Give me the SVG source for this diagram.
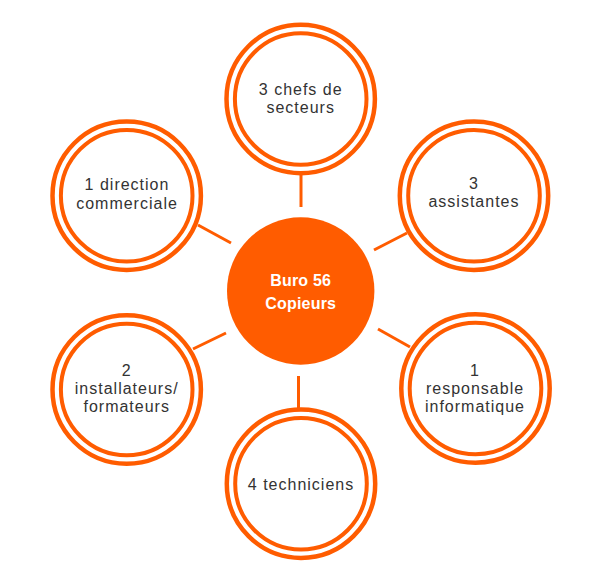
<svg xmlns="http://www.w3.org/2000/svg" width="596" height="584" viewBox="0 0 596 584">
<style>
.o{fill:none;stroke:#ff5c00;stroke-width:4.5}
.i{fill:#fff;stroke:#ff5c00;stroke-width:4}
.t{font-family:"Liberation Sans",Arial,sans-serif;font-size:16px;fill:#333;letter-spacing:1px;text-anchor:middle}
.c{font-family:"Liberation Sans",Arial,sans-serif;font-size:16px;font-weight:bold;fill:#fff;letter-spacing:0.2px;text-anchor:middle}
.l{stroke:#ff5c00;stroke-width:3;fill:none}
</style>
<rect width="596" height="584" fill="#fff"/>
<g id="connectors">
<line class="l" x1="301" y1="175" x2="301" y2="207"/>
<line class="l" x1="198" y1="225" x2="231" y2="243"/>
<line class="l" x1="374" y1="250" x2="407" y2="233"/>
<line class="l" x1="193" y1="349" x2="226" y2="333"/>
<line class="l" x1="378" y1="329" x2="410" y2="347"/>
<line class="l" x1="298.5" y1="376" x2="298.5" y2="408"/>
</g>
<g id="center">
<circle cx="300.7" cy="291" r="73.7" fill="#ff5c00"/>
<text class="c" x="300.7" y="286">Buro 56</text>
<text class="c" x="300.7" y="309">Copieurs</text>
</g>
<g id="n-top">
<circle class="o" cx="300.7" cy="99" r="74.2"/>
<circle class="i" cx="300.7" cy="99" r="65.8"/>
<text class="t" x="300.7" y="95">3 chefs de</text>
<text class="t" x="300.7" y="113">secteurs</text>
</g>
<g id="n-topleft">
<circle class="o" cx="126.7" cy="195.7" r="74.2"/>
<circle class="i" cx="126.7" cy="195.7" r="65.8"/>
<text class="t" x="127" y="190">1 direction</text>
<text class="t" x="127" y="209">commerciale</text>
</g>
<g id="n-topright">
<circle class="o" cx="474" cy="195.7" r="74.2"/>
<circle class="i" cx="474" cy="195.7" r="65.8"/>
<text class="t" x="474" y="188.5">3</text>
<text class="t" x="474" y="207">assistantes</text>
</g>
<g id="n-bottomleft">
<circle class="o" cx="126.7" cy="389.5" r="74.2"/>
<circle class="i" cx="126.7" cy="389.5" r="65.8"/>
<text class="t" x="126.7" y="376">2</text>
<text class="t" x="126.7" y="394">installateurs/</text>
<text class="t" x="126.7" y="412">formateurs</text>
</g>
<g id="n-bottomright">
<circle class="o" cx="475.5" cy="388.5" r="74.2"/>
<circle class="i" cx="475.5" cy="388.5" r="65.8"/>
<text class="t" x="475" y="376">1</text>
<text class="t" x="475" y="394">responsable</text>
<text class="t" x="475" y="412">informatique</text>
</g>
<g id="n-bottom">
<circle class="o" cx="301" cy="483.7" r="74.2"/>
<circle class="i" cx="301" cy="483.7" r="65.8"/>
<text class="t" x="301" y="490">4 techniciens</text>
</g>
</svg>
